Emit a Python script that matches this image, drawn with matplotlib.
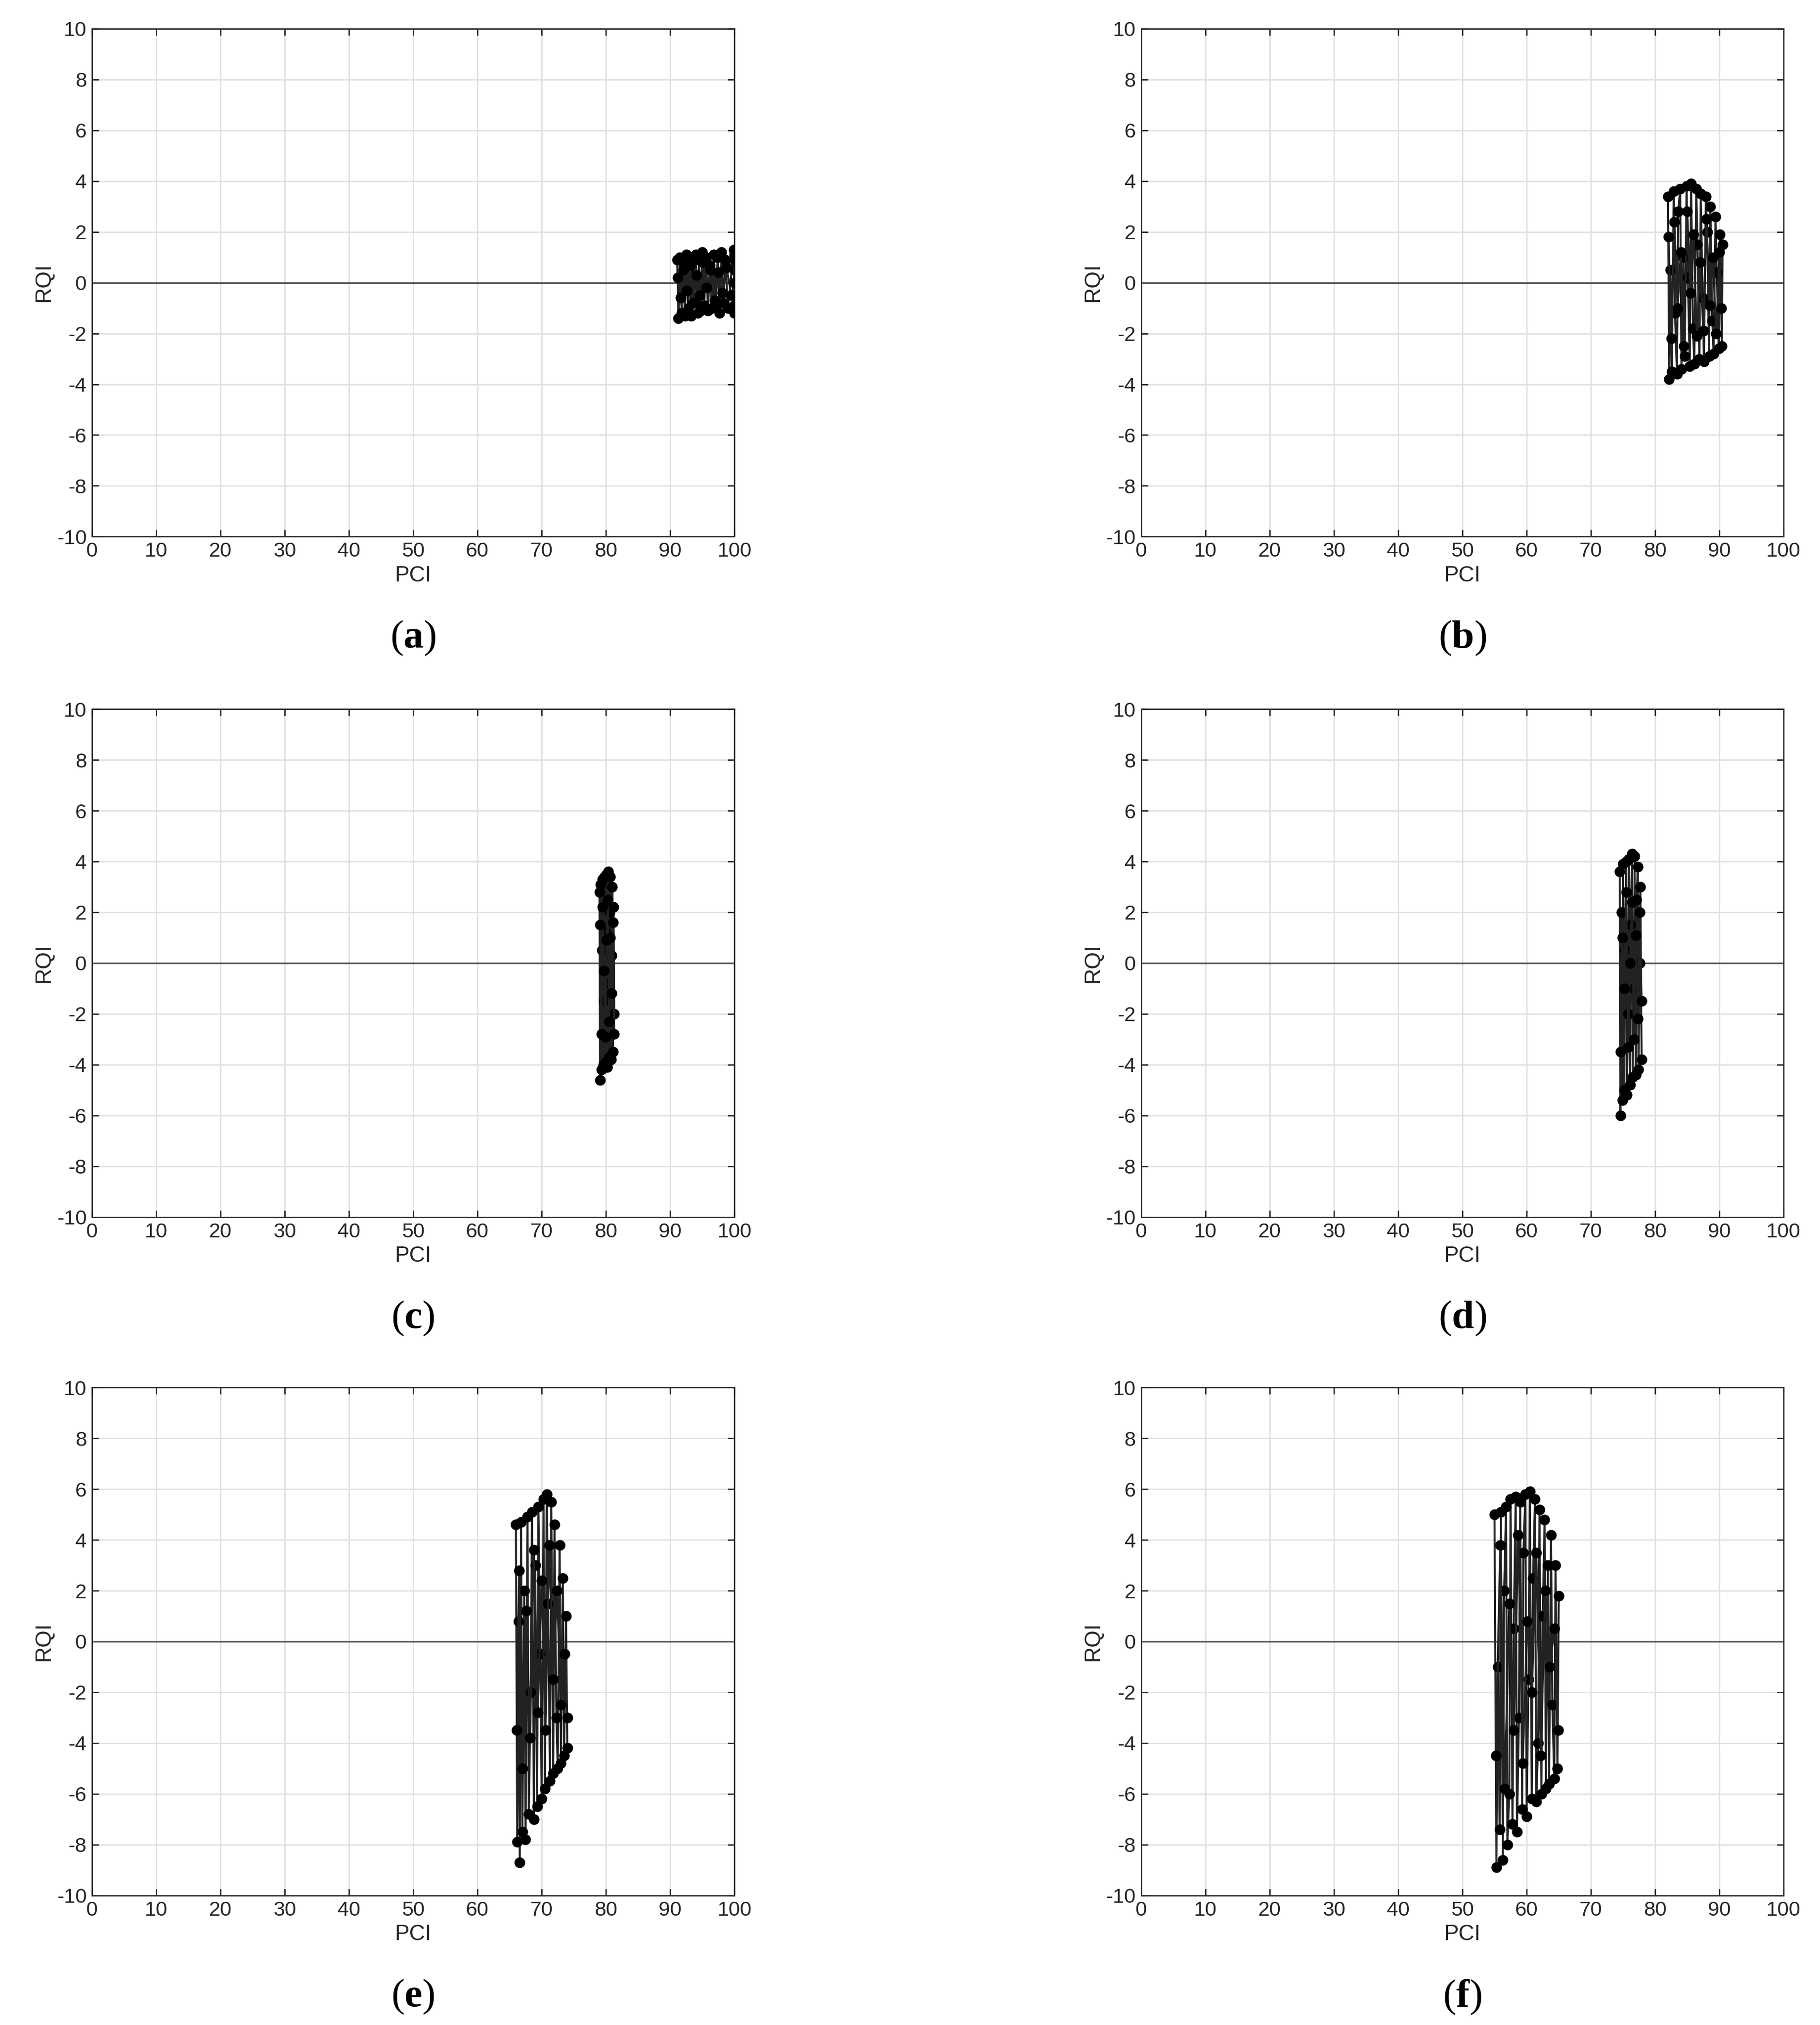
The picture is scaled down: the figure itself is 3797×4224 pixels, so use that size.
import matplotlib
matplotlib.use("Agg")
import matplotlib.pyplot as plt

plt.rcParams['font.family'] = ['Liberation Sans', 'DejaVu Sans']
plt.rcParams['axes.unicode_minus'] = False
plt.rcParams['mathtext.fontset'] = 'custom'
plt.rcParams['mathtext.rm'] = 'Liberation Serif'
plt.rcParams['mathtext.bf'] = 'Liberation Serif:bold'

PANEL_LABELS = ["a", "b", "c", "d", "e", "f"]
X_TICKS = list(range(0, 101, 10))
Y_TICKS = list(range(-10, 11, 2))

# outer sweep (extremes) for each panel
a_x = [91.1, 91.3, 91.5, 91.8, 92.0, 92.3, 92.5, 92.8, 93.0, 93.3, 93.5, 93.8, 94.0, 94.3, 94.5, 94.8, 95.0, 95.3,
       95.6, 95.9, 96.2, 96.5, 96.8, 97.1, 97.4, 97.7, 98.0, 98.3, 98.6, 99.0, 99.9, 100, 100, 100, 100]
a_y = [0.9, -1.4, 1.0, -1.2, 0.8, -1.3, 1.1, -1.0, 0.6, -1.3, 1.0, -0.8, 1.1, -1.2, 0.9, -1.1, 1.2, -0.9,
       1.0, -1.1, 0.7, -1.0, 1.1, -0.9, 1.0, -1.2, 1.2, -0.8, 0.9, -1.0, 1.3, -1.2, 1.1, -0.9, 0.5]

b_x = [82.0, 82.2, 82.4, 82.6, 82.9, 83.1, 83.4, 83.6, 83.9, 84.1, 84.4, 84.6, 84.9, 85.1, 85.4, 85.6, 85.9, 86.1,
       86.4, 86.6, 86.9, 87.1, 87.4, 87.6, 87.9, 88.1, 88.4, 88.6, 88.9, 89.1, 89.4, 89.6, 89.9, 90.1, 90.4, 90.5]
b_y = [3.4, -3.8, 0.5, -3.5, 3.6, -1.2, -3.6, 2.8, 3.7, -3.4, 1.0, -2.9, 3.8, 0.2, -3.3, 3.9, -1.8, -3.2,
       3.7, 1.5, -3.0, 3.5, -0.6, -3.1, 3.4, 2.0, -2.9, 3.0, -1.5, -2.8, 2.6, 0.4, -2.6, 1.9, -2.5, 1.5]

c_x = [79.0, 79.1, 79.2, 79.3, 79.4, 79.5, 79.6, 79.7, 79.8, 79.9, 80.0, 80.1, 80.2, 80.3, 80.4, 80.5, 80.6, 80.7,
       80.8, 80.9, 81.0, 81.1, 81.2, 81.3]
c_y = [2.8, -4.6, 3.1, -4.2, 0.5, 3.3, -4.0, -1.5, 3.4, -3.9, 1.2, 3.5, -4.1, -0.8, 3.6, -3.7, 2.0, 3.4,
       -3.8, 0.3, 3.0, -3.5, 2.2, -2.0]

d_x = [74.5, 74.6, 74.8, 74.9, 75.0, 75.2, 75.3, 75.5, 75.6, 75.8, 75.9, 76.1, 76.2, 76.4, 76.5, 76.7, 76.8, 77.0,
       77.1, 77.3, 77.4, 77.6, 77.7, 77.9]
d_y = [3.6, -6.0, 2.0, -5.4, 3.9, -5.0, 0.5, 4.0, -5.2, -2.0, 4.1, -4.8, 1.5, 4.3, -4.5, -1.0, 4.2, -4.4,
       2.5, 3.8, -4.2, 0.0, 3.0, -3.8]

e_x = [66.0, 66.2, 66.4, 66.6, 66.8, 67.0, 67.3, 67.5, 67.8, 68.0, 68.3, 68.5, 68.8, 69.0, 69.3, 69.5, 69.8, 70.0,
       70.3, 70.5, 70.8, 71.0, 71.3, 71.5, 71.8, 72.0, 72.3, 72.5, 72.8, 73.0, 73.3, 73.5, 73.8, 74.0]
e_y = [4.6, -7.9, 0.8, -8.7, 4.7, -7.5, 2.0, -7.8, 4.9, -6.8, -2.0, 5.1, -7.0, 3.0, -6.5, 5.3, -0.5, -6.2,
       5.6, -5.8, 5.8, 1.5, -5.5, 5.5, -5.2, 4.6, -3.0, -5.0, 3.8, -4.8, 2.5, -4.5, 1.0, -4.2]

f_x = [55.0, 55.3, 55.5, 55.8, 56.0, 56.3, 56.5, 56.8, 57.0, 57.3, 57.5, 57.8, 58.0, 58.3, 58.5, 58.8, 59.0, 59.3,
       59.5, 59.8, 60.0, 60.3, 60.5, 60.8, 61.0, 61.3, 61.5, 61.8, 62.0, 62.3, 62.5, 62.8, 63.0, 63.3, 63.5, 63.8,
       64.0, 64.3, 64.5, 64.8, 65.0]
f_y = [5.0, -8.9, -1.0, -7.4, 5.1, -8.6, 2.0, 5.3, -8.0, -6.0, 5.6, -7.2, 0.5, 5.7, -7.5, -3.0, 5.5, -6.6,
       3.5, 5.8, -6.9, -1.5, 5.9, -6.2, 2.5, 5.6, -6.3, -4.0, 5.2, -6.0, 1.0, 4.8, -5.8, 3.0, -5.6, 4.2,
       -2.5, -5.4, 3.0, -5.0, 1.8]

# inner sweep (points inside the cloud)
a_x2 = [91.2, 91.6, 92.1, 92.6, 93.1, 93.6, 94.1, 94.6, 95.1, 95.7, 96.3, 96.9, 97.5, 98.1, 98.8, 99.5, 100, 100]
a_y2 = [0.2, -0.6, 0.5, -0.3, 0.7, -0.8, 0.3, -0.5, 0.8, -0.2, 0.5, -0.7, 0.4, -0.4, 0.6, -0.5, 0.0, 0.9]

b_x2 = [82.1, 82.5, 83.0, 83.5, 84.0, 84.5, 85.0, 85.5, 86.0, 86.5, 87.0, 87.5, 88.0, 88.5, 89.0, 89.5, 90.0, 90.3]
b_y2 = [1.8, -2.2, 2.4, -1.0, 1.2, -2.5, 2.8, -0.4, 1.9, -2.1, 0.8, -1.9, 2.5, -0.9, 1.0, -2.0, 1.2, -1.0]

c_x2 = [79.1, 79.3, 79.5, 79.7, 79.9, 80.1, 80.3, 80.5, 80.7, 80.9, 81.1, 81.3]
c_y2 = [1.5, -2.8, 2.2, -0.3, -2.9, 0.9, 2.5, -2.3, 1.0, -1.2, 1.6, -2.8]

d_x2 = [74.6, 74.9, 75.2, 75.5, 75.8, 76.1, 76.4, 76.7, 77.0, 77.3, 77.6, 77.9]
d_y2 = [-3.5, 1.0, -1.0, 2.8, -3.3, 0.0, 2.4, -3.0, 1.1, -2.2, 2.0, -1.5]

e_x2 = [66.1, 66.5, 67.0, 67.6, 68.2, 68.8, 69.4, 70.0, 70.6, 71.2, 71.8, 72.4, 73.0, 73.6, 74.0]
e_y2 = [-3.5, 2.8, -5.0, 1.2, -3.8, 3.6, -2.8, 2.4, -3.5, 3.8, -1.5, 2.0, -2.5, -0.5, -3.0]

f_x2 = [55.2, 55.9, 56.6, 57.3, 58.0, 58.7, 59.4, 60.1, 60.8, 61.5, 62.2, 62.9, 63.6, 64.3, 64.9]
f_y2 = [-4.5, 3.8, -5.8, 1.5, -3.5, 4.2, -4.8, 0.8, -2.0, 3.5, -4.5, 2.0, -1.0, 0.5, -3.5]

series = [(a_x, a_y, a_x2, a_y2), (b_x, b_y, b_x2, b_y2), (c_x, c_y, c_x2, c_y2),
          (d_x, d_y, d_x2, d_y2), (e_x, e_y, e_x2, e_y2), (f_x, f_y, f_x2, f_y2)]

fig = plt.figure(figsize=(37.97, 42.24), dpi=100)
lefts = [0.0505, 0.627]
bottoms = [0.735, 0.399, 0.064]
w, h = 0.353, 0.2508

for i, (xs, ys, xs2, ys2) in enumerate(series):
    col, row = i % 2, i // 2
    ax = fig.add_axes([lefts[col], bottoms[row], w, h])
    ax.axhline(0, color='#555555', lw=2.5, zorder=1)
    for px, py in ((xs, ys), (xs2, ys2)):
        ax.plot(px, py, '-', color='#222222', lw=3, marker='o', ms=15,
                mfc='black', mec='black', zorder=3)
    ax.set_xlim(0, 100)
    ax.set_ylim(-10, 10)
    ax.set_xticks(X_TICKS)
    ax.set_yticks(Y_TICKS)
    ax.grid(True, color='#e0e0e0', lw=2)
    ax.set_axisbelow(True)
    ax.tick_params(direction='in', length=10, width=2, labelsize=31, colors='#262626',
                   top=True, right=True, pad=8)
    for s in ax.spines.values():
        s.set_linewidth(2)
        s.set_color('#262626')
    ax.set_xlabel('PCI', fontsize=33, color='#262626', labelpad=6)
    ax.set_ylabel('RQI', fontsize=33, color='#262626', labelpad=4)
    ax.text(0.5, -0.2, r'$(\mathbf{%s})$' % PANEL_LABELS[i], transform=ax.transAxes,
            ha='center', va='center', fontsize=60)

fig.savefig('out.png', dpi=100)
